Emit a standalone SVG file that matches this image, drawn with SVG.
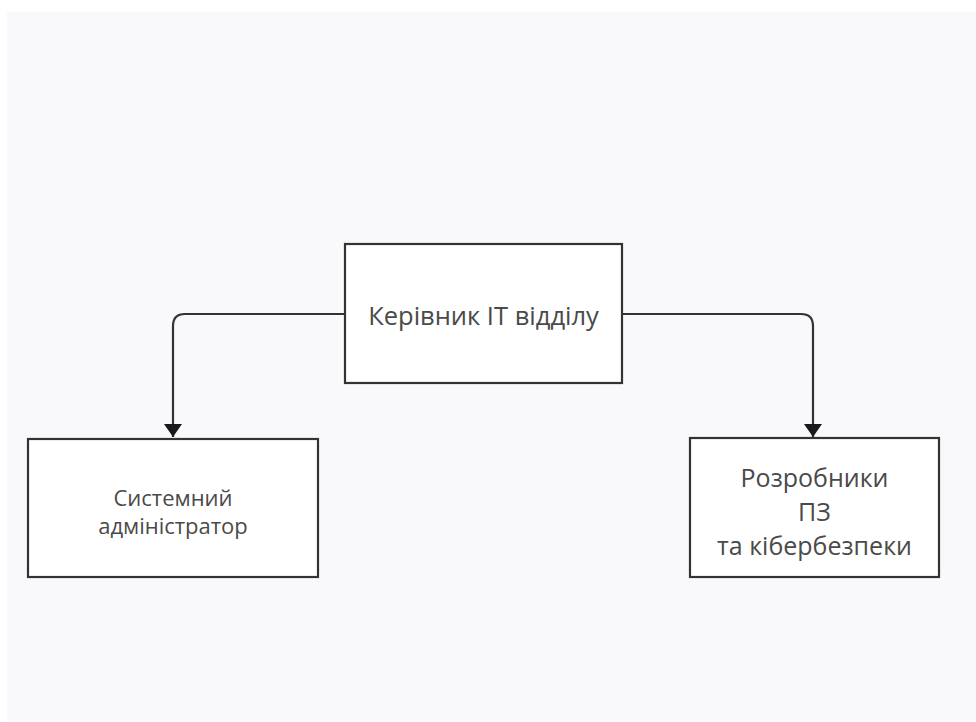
<svg xmlns="http://www.w3.org/2000/svg" width="976" height="722" viewBox="0 0 976 722">
<defs>
<style>
.bg{fill:#f9f9fb}
.node rect{fill:#ffffff;stroke:#333333;stroke-width:2.2}
.node text{font-family:"Open Sans","Noto Sans","DejaVu Sans",sans-serif;fill:#4a4a4a;text-anchor:middle;dominant-baseline:central}
.edge{fill:none;stroke:#333333;stroke-width:2.2}
</style>
<marker id="arrow" viewBox="0 0 13 18" refX="13" refY="9" markerWidth="13" markerHeight="18" markerUnits="userSpaceOnUse" orient="auto">
<path d="M0,0 L13,9 L0,18 Z" fill="#1a1a1a"/>
</marker>
</defs>
<rect width="976" height="722" fill="#ffffff"/>
<rect class="bg" x="7" y="12" width="969" height="710"/>
<g id="connectors">
<path class="edge" d="M345,314 H185 Q173,314 173,326 V437" marker-end="url(#arrow)"/>
<path class="edge" d="M622,314 H801 Q813,314 813,326 V437" marker-end="url(#arrow)"/>
</g>
<g id="node-head" class="node">
<rect x="345" y="244" width="277" height="139"/>
<text x="483.5" y="315" font-size="25.5">Керівник ІТ відділу</text>
</g>
<g id="node-sysadmin" class="node">
<rect x="28" y="439" width="290" height="138"/>
<text x="173" y="497" font-size="22">Системний</text>
<text x="173" y="525" font-size="22">адміністратор</text>
</g>
<g id="node-devs" class="node">
<rect x="690" y="438" width="249" height="139"/>
<text x="814.5" y="477" font-size="25">Розробники</text>
<text x="814.5" y="511" font-size="25">ПЗ</text>
<text x="814.5" y="545" font-size="25">та кібербезпеки</text>
</g>
</svg>
